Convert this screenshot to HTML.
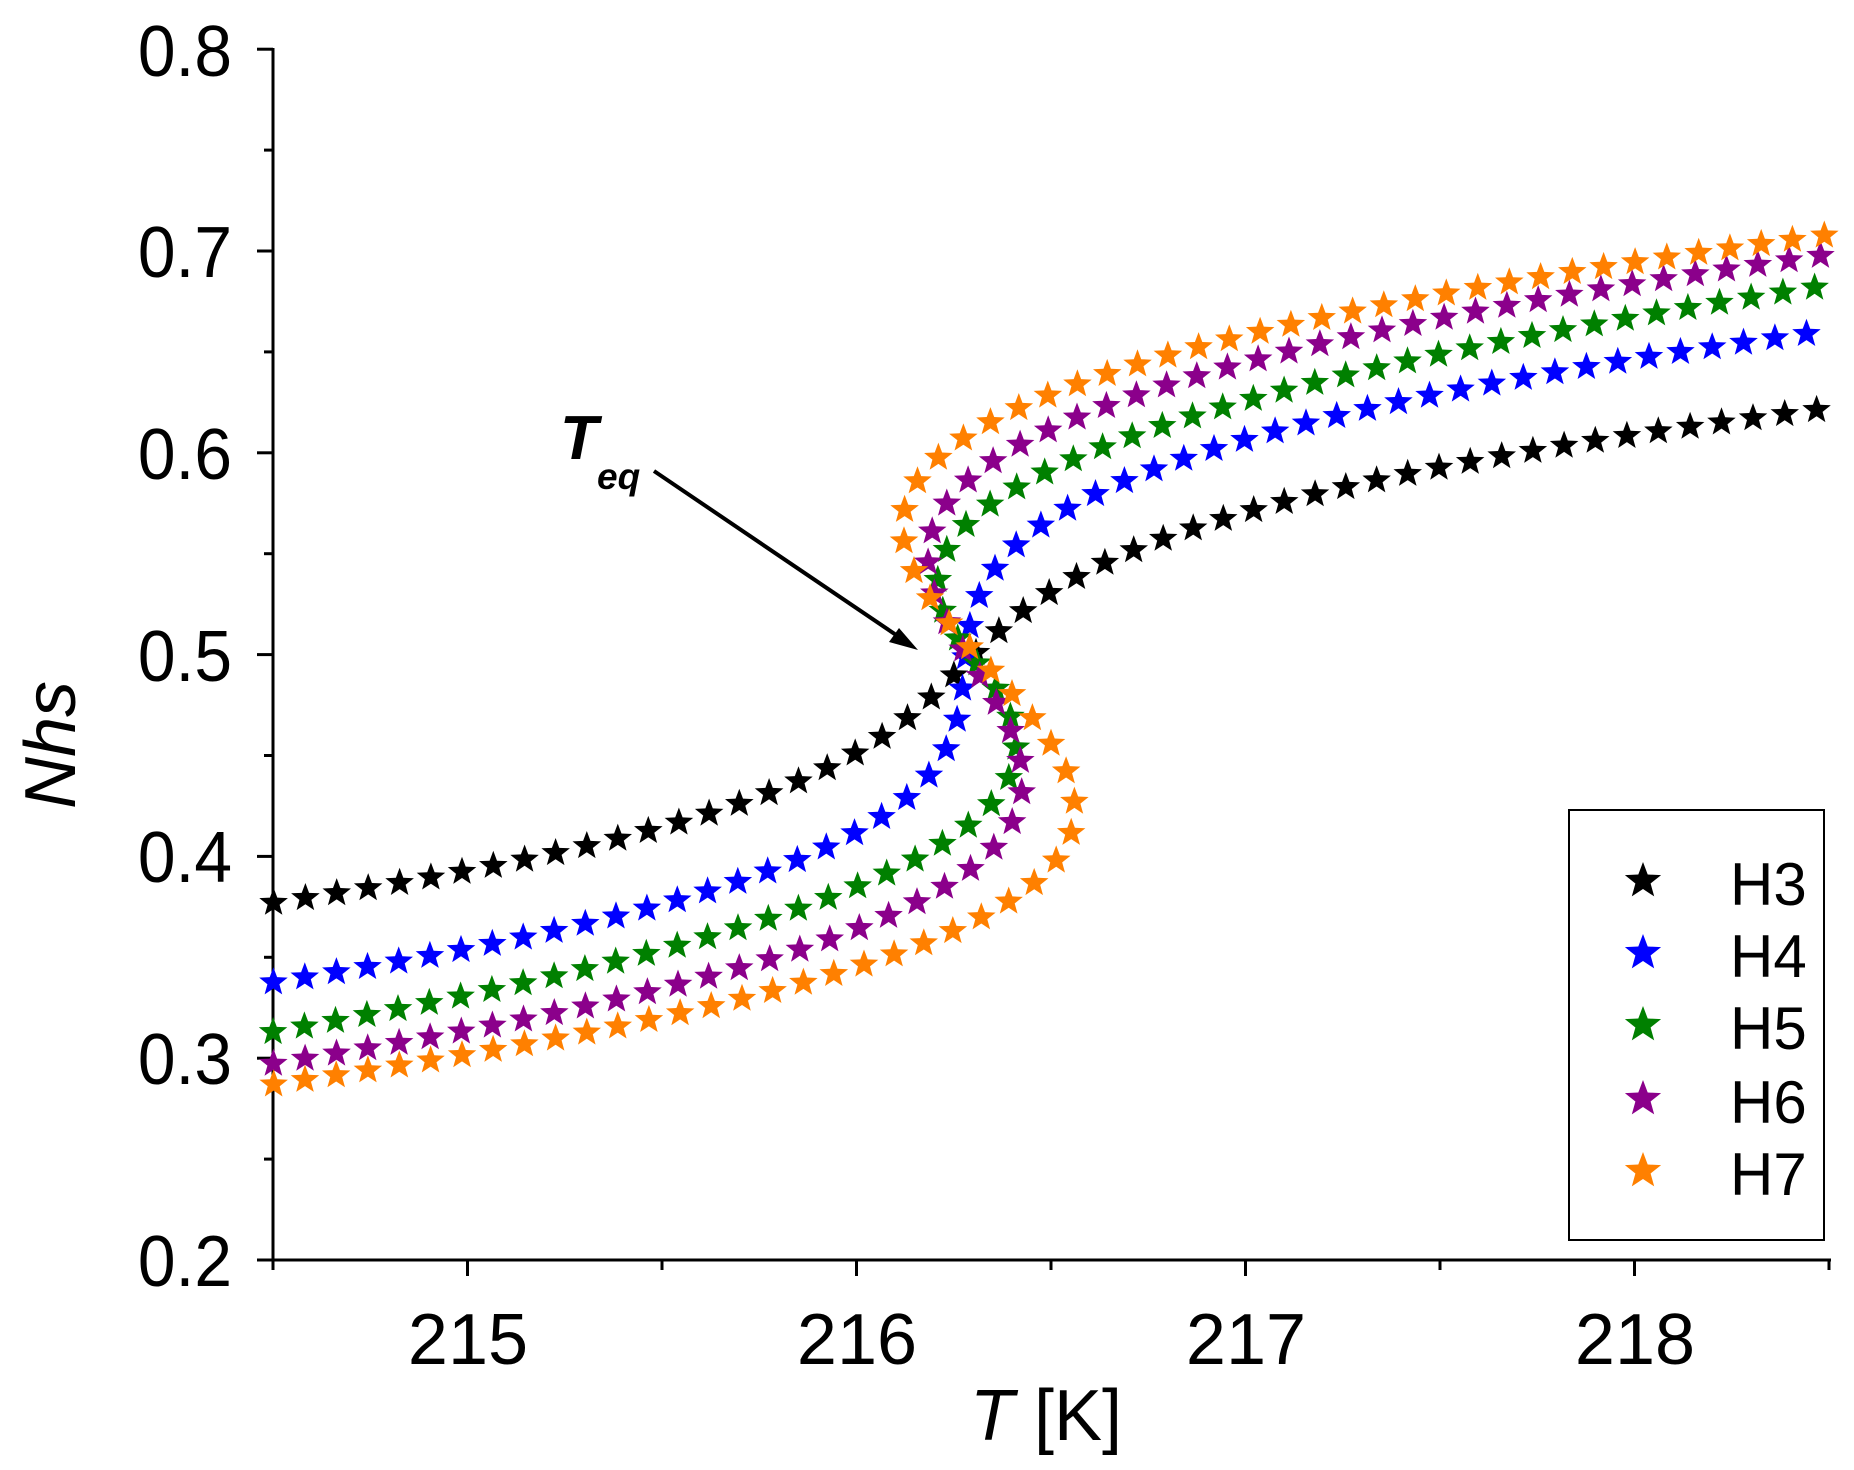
<!DOCTYPE html>
<html><head><meta charset="utf-8"><style>
html,body{margin:0;padding:0;background:#fff;}
svg{display:block;}
text{font-family:"Liberation Sans",Arial,sans-serif;fill:#000;}
</style></head><body>
<svg id="s" width="1854" height="1470" viewBox="0 0 1854 1470" xmlns="http://www.w3.org/2000/svg">
<g id="ax" stroke="#000" stroke-width="3" fill="none">
<line x1="273" y1="48" x2="273" y2="1261"/>
<line x1="272" y1="1260" x2="1831" y2="1260"/>
</g>
<g id="ticks" stroke="#000" stroke-width="3"></g>
<g font-size="72" text-anchor="end" transform="translate(232,0) scale(0.94,1)">
<text x="0" y="1286">0.2</text>
<text x="0" y="1084">0.3</text>
<text x="0" y="882">0.4</text>
<text x="0" y="681">0.5</text>
<text x="0" y="479">0.6</text>
<text x="0" y="277">0.7</text>
<text x="0" y="76">0.8</text>
</g>
<g font-size="72" text-anchor="middle">
<text x="468" y="1364">215</text>
<text x="857" y="1364">216</text>
<text x="1246" y="1364">217</text>
<text x="1635" y="1364">218</text>
</g>
<text x="1046" y="1440" font-size="72" text-anchor="middle"><tspan font-style="italic">T</tspan> [K]</text>
<text transform="translate(75,745) rotate(-90)" font-size="72" font-style="italic" text-anchor="middle">Nhs</text>
<text x="560" y="459" font-size="62" font-weight="bold" font-style="italic">T</text>
<text x="597" y="489" font-size="37" font-weight="bold" font-style="italic">eq</text>
<line x1="654" y1="471" x2="905" y2="641" stroke="#000" stroke-width="4"/>
<polygon points="918,650 889,642 899,628" fill="#000"/>
<g id="pts"></g>
<rect x="1569" y="810" width="255" height="430" fill="none" stroke="#000" stroke-width="2"/>
<g id="leg"></g>
<g font-size="60">
<text x="1730" y="905">H3</text>
<text x="1730" y="977">H4</text>
<text x="1730" y="1049">H5</text>
<text x="1730" y="1123">H6</text>
<text x="1730" y="1195">H7</text>
</g>
</svg>
<script>
var NS="http://www.w3.org/2000/svg";
function X(T){return 273+(T-214.5)*389;}
function Y(N){return 1260-(N-0.2)*2018;}
var tk=document.getElementById('ticks'),h='';
for(var i=0;i<=12;i++){var y=Y(0.2+i*0.05);h+='<line x1="273" y1="'+y+'" x2="'+(i%2?264:257)+'" y2="'+y+'"/>';}
for(var i=0;i<=8;i++){var x=X(214.5+i*0.5);h+='<line x1="'+x+'" y1="1260" x2="'+x+'" y2="'+(i%2?1276:1270)+'"/>';}
tk.innerHTML=h;
function star(cx,cy,r,col){var p=[];for(var k=0;k<10;k++){var rr=k%2?r*0.42:r;var a=-Math.PI/2+k*Math.PI/5;p.push((cx+rr*Math.cos(a)).toFixed(1)+','+(cy+rr*Math.sin(a)).toFixed(1));}
return '<polygon points="'+p.join(' ')+'" fill="'+col+'"/>';}
function f(x,c,e,p){return c*x+e*Math.sign(x)*Math.pow(Math.abs(x),p);}
function turnParams(xt,Tt,xe,Te){
 function calc(p){var q=Math.pow(xt,p-1);var e=Tt/(xt*(-p*q+q));var c=-p*q*e;return [c,e,f(xe,c,e,p)-Te];}
 var lo=2,hi=4.5;for(var i=0;i<60;i++){var m=(lo+hi)/2;var r=calc(m);if(r[2]>0)hi=m;else lo=m;}
 var r=calc(lo);return {c:r[0],e:r[1],p:lo};}
var series=[
 {col:'#000000',Teq:216.3,N0:0.4995,c:5.16,e:744,p:3,g:13.3},
 {col:'#0000ff',Teq:216.28,N0:0.4985,c:0.5,e:456,p:3,g:7.7},
 Object.assign({col:'#008000',Teq:216.3,N0:0.498,g:5.85},turnParams(0.04,-0.1,0.185,2.0)),
 Object.assign({col:'#8b008b',Teq:216.29,N0:0.4975,g:5.0},turnParams(0.055,-0.12,0.2005,2.0)),
 Object.assign({col:'#ff8000',Teq:216.32,N0:0.4975,g:4.06},turnParams(0.07,-0.22,0.2105,2.0))
];
var out='';
series.forEach(function(s){
 var px=null,py=null,acc=0,first=true;
 for(var x=-0.3;x<=0.3;x+=0.00005){
  var T=s.Teq+f(x,s.c,s.e,s.p)+s.g*x*x,N=s.N0+x;var sx=X(T),sy=Y(N);
  if(sx<273||sx>1832){px=null;continue;}
  if(px===null){if(first){out+=star(sx,sy,15,s.col);first=false;acc=0;}px=sx;py=sy;continue;}
  acc+=Math.hypot(sx-px,sy-py);px=sx;py=sy;
  if(acc>=31.5){out+=star(sx,sy,15,s.col);acc=0;}
 }
});
document.getElementById('pts').innerHTML=out;
var lg='',ys=[883,955,1027,1101,1173];
series.forEach(function(s,i){lg+=star(1643,ys[i]-2,19,s.col);});
document.getElementById('leg').innerHTML=lg;
</script>
</body></html>
